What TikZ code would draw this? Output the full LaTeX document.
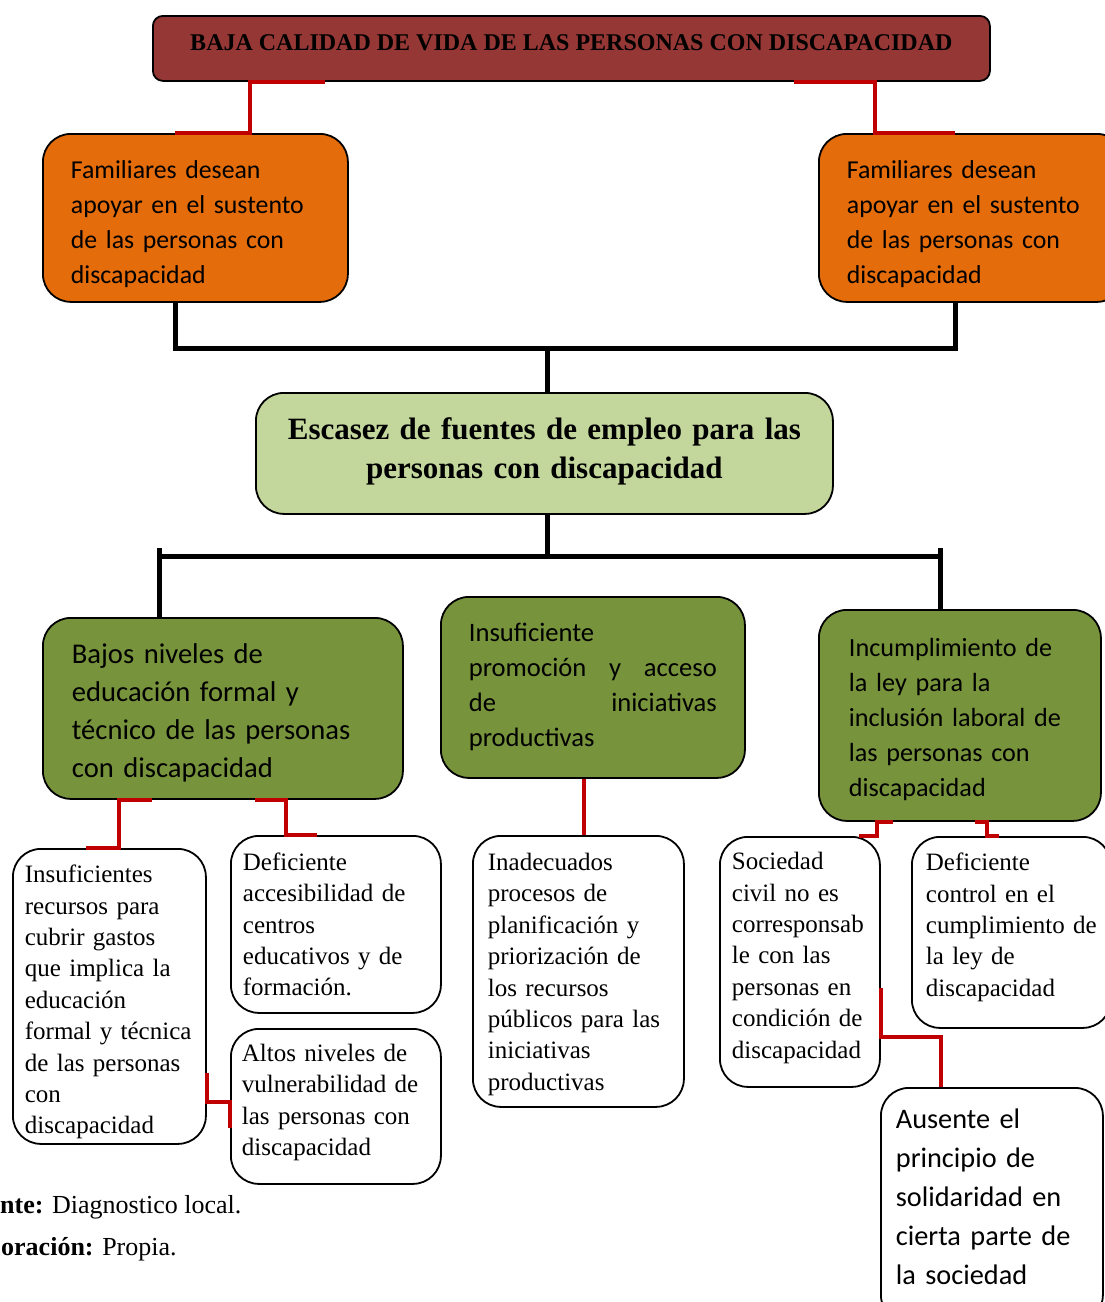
\documentclass[tikz,border=0pt]{standalone}
\usepackage{fontspec}
\setmainfont{Liberation Serif}
\newfontfamily\calibri{Carlito}
\definecolor{vino}{RGB}{149,55,53}
\definecolor{naranja}{RGB}{228,108,10}
\definecolor{verdeclaro}{RGB}{195,214,155}
\definecolor{verdeoliva}{RGB}{119,147,60}
\definecolor{rojolinea}{RGB}{192,0,0}
\tikzset{
  caja/.style={draw=black, line width=1.8pt, anchor=north west, align=left, inner ysep=4pt, rounded corners=28pt},
  tam/.style n args={3}{minimum width=#1, minimum height=#2, text width=#3},
  efecto/.style={caja, fill=naranja, font=\calibri\fontsize{25.8}{35}\selectfont, inner xsep=28pt, text height=29.8pt},
  causa/.style={caja, fill=verdeoliva, font=\calibri\fontsize{26.2}{35}\selectfont},
  subcausa/.style={caja, fill=white, font=\fontsize{25}{31.4}\selectfont},
  negra/.style={line width=5pt, black},
  roja/.style={line width=3.5pt, rojolinea}
}
\begin{document}
\hyphenpenalty=10000
\begin{tikzpicture}[x=1pt,y=-1pt]
\useasboundingbox (0,0) rectangle (1105,1302);
\node[caja, fill=vino, rounded corners=10pt, align=center, minimum width=837pt, minimum height=65pt, text depth=12pt, font=\bfseries\fontsize{24}{28}\selectfont] (top) at (152,15) {BAJA CALIDAD DE VIDA DE LAS PERSONAS CON DISCAPACIDAD};
\node[efecto, tam={305pt}{168pt}{249pt}] (fam1) at (42,133) {Familiares desean\\apoyar en el sustento\\de las personas con\\discapacidad};
\node[efecto, tam={306pt}{168pt}{250pt}] (fam2) at (818,133) {Familiares desean\\apoyar en el sustento\\de las personas con\\discapacidad};
\node[caja, fill=verdeclaro, align=center, tam={577pt}{121pt}{560pt}, inner xsep=8pt, text depth=49.7pt, font=\bfseries\fontsize{31}{39}\selectfont] (esc) at (255,392) {Escasez de fuentes de empleo para las\\personas con discapacidad};
\node[causa, tam={360pt}{181pt}{302pt}, inner xsep=29pt, text height=28.7pt, font=\calibri\fontsize{28.6}{38}\selectfont] (g1) at (42,617) {Bajos niveles de\\educación formal y\\técnico de las personas\\con discapacidad};
\node[causa, tam={304pt}{181pt}{248pt}, inner xsep=28pt, font=\calibri\fontsize{26.6}{35}\selectfont] (g2) at (440,596) {Insuficiente\\\leavevmode\hbox to 248pt{promoción\hfill y\hfill acceso}\\\leavevmode\hbox to 248pt{de\hfill iniciativas}\\productivas};
\node[causa, tam={282pt}{211pt}{222pt}, inner xsep=30pt, text height=26.1pt] (g3) at (818,609) {Incumplimiento de\\la ley para la\\inclusión laboral de\\las personas con\\discapacidad};
\node[subcausa, tam={193pt}{295pt}{169pt}, inner xsep=12pt, text height=29.1pt] (A) at (12,848) {Insuficientes\\recursos para\\cubrir gastos\\que implica la\\educación\\formal y técnica\\de las personas\\con\\discapacidad};
\node[subcausa, tam={210pt}{177pt}{186pt}, inner xsep=12pt] (B) at (230,835) {Deficiente\\accesibilidad de\\centros\\educativos y de\\formación.};
\node[subcausa, tam={210pt}{155pt}{188pt}, inner xsep=11pt, text depth=107.6pt] (C) at (230,1028) {Altos niveles de\\vulnerabilidad de\\las personas con\\discapacidad};
\node[subcausa, tam={211pt}{271pt}{181pt}, inner xsep=15pt, text height=23.1pt] (D) at (472,835) {Inadecuados\\procesos de\\planificación y\\priorización de\\los recursos\\públicos para las\\iniciativas\\productivas};
\node[subcausa, tam={160pt}{250pt}{136pt}, inner xsep=12pt, text depth=201.8pt] (E) at (719,836) {Sociedad\\civil no es\\corresponsab\\le con las\\personas en\\condición de\\discapacidad};
\node[subcausa, tam={199pt}{191pt}{171pt}, inner xsep=14pt, text depth=141pt] (F) at (911,836) {Deficiente\\control en el\\cumplimiento de\\la ley de\\discapacidad};
\node[subcausa, tam={222pt}{235pt}{192pt}, inner xsep=15pt, text depth=174pt, font=\calibri\fontsize{28.3}{39}\selectfont] (G) at (880,1087) {Ausente el\\principio de\\solidaridad en\\cierta parte de\\la sociedad};
\node[anchor=base west, inner sep=0pt, font=\fontsize{26}{30}\selectfont] (fuente) at (0,1213) {\textbf{nte:} Diagnostico local.};
\node[anchor=base west, inner sep=0pt, font=\fontsize{26}{30}\selectfont] (elab) at (1,1255) {\textbf{oración:} Propia.};
\draw[negra] (fam1.south -| 175,0) -- (175,348) -- (955,348) -- (fam2.south -| 955,0);
\draw[negra] (547,348) -- (esc.north -| 547,0);
\draw[negra] (esc.south -| 547,0) -- (547,556);
\draw[negra] (159,556) -- (940,556);
\draw[negra] (159,548) -- (g1.north -| 159,0);
\draw[negra] (940,548) -- (g3.north -| 940,0);
\draw[roja] (top.south -| 325,0) -- (top.south -| 250,0) -- (fam1.north -| 250,0) -- (fam1.north -| 175,0);
\draw[roja] (top.south -| 794,0) -- (top.south -| 875,0) -- (fam2.north -| 875,0) -- (fam2.north -| 955,0);
\draw[roja] (g1.south -| 152,0) -- (g1.south -| 119,0) -- (A.north -| 119,0) -- (A.north -| 86,0);
\draw[roja] (g1.south -| 255,0) -- (g1.south -| 286,0) -- (B.north -| 286,0) -- (B.north -| 317,0);
\draw[roja] (A.east |- 0,1073) -- (A.east |- 0,1102) -- (C.west |- 0,1102) -- (C.west |- 0,1128);
\draw[roja] (g2.south -| 584,0) -- (D.north -| 584,0);
\draw[roja] (g3.south -| 893,0) -- (g3.south -| 877,0) -- (E.north -| 877,0) -- (E.north -| 859,0);
\draw[roja] (g3.south -| 975,0) -- (g3.south -| 987,0) -- (F.north -| 987,0) -- (F.north -| 999,0);
\draw[roja] (E.east |- 0,988) -- (E.east |- 0,1037) -- (941,1037) -- (G.north -| 941,0);
\end{tikzpicture}
\end{document}
